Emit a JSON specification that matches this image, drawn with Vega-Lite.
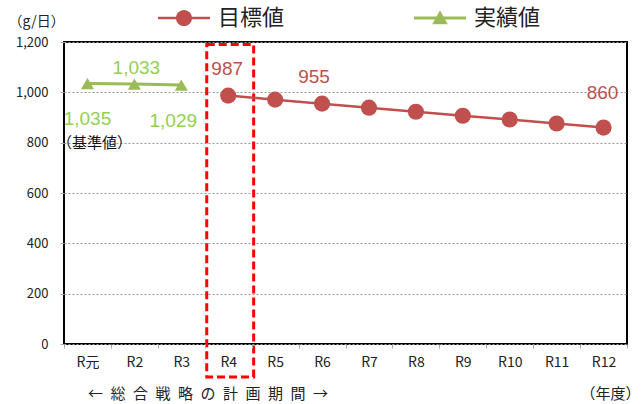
{
  "$schema": "https://vega.github.io/schema/vega-lite/v6.json",
  "width": 563,
  "height": 302,
  "autosize": {"type": "none"},
  "padding": {"left": 64, "top": 42, "right": 15, "bottom": 60},
  "background": "white",
  "config": {
    "view": {"stroke": "#000", "strokeWidth": 2},
    "font": "Noto Sans CJK JP"
  },
  "title": {
    "text": "←\u2002総\u2002合\u2002戦\u2002略\u2002の\u2002計\u2002画\u2002期\u2002間\u2002→",
    "orient": "bottom",
    "anchor": "start",
    "frame": "group",
    "font": "Noto Sans CJK JP",
    "fontSize": 15,
    "fontWeight": "normal",
    "color": "#222",
    "dx": 24,
    "dy": -14,
    "offset": 0
  },
  "data": {
    "values": [
      {"series": "実績値", "year": "R元", "value": 1035},
      {"series": "実績値", "year": "R2", "value": 1033},
      {"series": "実績値", "year": "R3", "value": 1029},
      {"series": "目標値", "year": "R4", "value": 987},
      {"series": "目標値", "year": "R5", "value": 971},
      {"series": "目標値", "year": "R6", "value": 955},
      {"series": "目標値", "year": "R7", "value": 939},
      {"series": "目標値", "year": "R8", "value": 923},
      {"series": "目標値", "year": "R9", "value": 907},
      {"series": "目標値", "year": "R10", "value": 892},
      {"series": "目標値", "year": "R11", "value": 876},
      {"series": "目標値", "year": "R12", "value": 860},
      {"series": "基準", "year": "R元", "value": 800, "label": "（基準値）"}
    ]
  },
  "encoding": {
    "x": {
      "field": "year",
      "type": "nominal",
      "sort": ["R元", "R2", "R3", "R4", "R5", "R6", "R7", "R8", "R9", "R10", "R11", "R12"],
      "scale": {"type": "band", "paddingInner": 0, "paddingOuter": 0},
      "axis": {
        "labelAngle": 0,
        "labelFont": "Noto Sans CJK JP",
        "labelFontSize": 14,
        "labelColor": "#222",
        "labelPadding": 7,
        "tickBand": "extent",
        "tickColor": "#aaa",
        "tickSize": 4,
        "domain": false,
        "grid": false,
        "title": "（年度）",
        "titleFont": "Noto Sans CJK JP",
        "titleFontSize": 15,
        "titleFontWeight": "normal",
        "titleColor": "#222",
        "titleAlign": "right",
        "titleBaseline": "middle",
        "titleX": 576,
        "titleY": 49
      }
    },
    "y": {
      "field": "value",
      "type": "quantitative",
      "scale": {"domain": [0, 1200], "nice": false},
      "axis": {
        "values": [0, 200, 400, 600, 800, 1000, 1200],
        "format": ",d",
        "labelFont": "Noto Sans CJK JP",
        "labelFontSize": 13,
        "labelColor": "#222",
        "labelPadding": 12,
        "tickColor": "#aaa",
        "tickSize": 4,
        "domain": false,
        "grid": true,
        "gridColor": "#999",
        "gridDash": [2, 2],
        "gridWidth": 1,
        "title": "（g/日）",
        "titleAngle": 0,
        "titleFont": "Noto Sans CJK JP",
        "titleFontSize": 14,
        "titleFontWeight": "normal",
        "titleColor": "#222",
        "titleAlign": "left",
        "titleBaseline": "middle",
        "titleX": -56,
        "titleY": -21
      }
    }
  },
  "layer": [
    {
      "transform": [{"filter": "datum.year === 'R4'"}],
      "mark": {"type": "rect", "fill": "transparent", "stroke": "#FF0000", "strokeWidth": 3, "strokeDash": [8, 4], "clip": false, "xOffset": 2},
      "encoding": {
        "y": {"datum": 1190},
        "y2": {"datum": -131}
      }
    },
    {
      "transform": [{"filter": "datum.series === '目標値'"}],
      "mark": {"type": "line", "color": "#C0504D", "strokeWidth": 2.5}
    },
    {
      "transform": [{"filter": "datum.series === '実績値'"}],
      "mark": {"type": "line", "color": "#9BBB59", "strokeWidth": 3}
    },
    {
      "transform": [{"filter": "datum.series === '目標値'"}],
      "mark": {"type": "point", "shape": "circle", "filled": true, "size": 260, "opacity": 1},
      "encoding": {
        "color": {
          "field": "series",
          "type": "nominal",
          "scale": {"domain": ["目標値", "実績値"], "range": ["#C0504D", "#9BBB59"]},
          "legend": {
            "title": null,
            "orient": "none",
            "legendX": 94,
            "legendY": -50,
            "direction": "horizontal",
            "symbolSize": 2704,
            "symbolStrokeWidth": 0,
            "symbolOpacity": 1,
            "labelFont": "Noto Sans CJK JP",
            "labelFontSize": 22,
            "labelColor": "#222",
            "labelOffset": 8,
            "columnPadding": 129,
            "padding": 0,
            "encode": {
              "symbols": {
                "update": {
                  "shape": {"signal": "datum.value === '目標値' ? 'M-1,-0.05H1V0.05H-1Z M0.31,0A0.31,0.31,0,1,1,-0.31,0A0.31,0.31,0,1,1,0.31,0Z' : 'M-1,-0.06H1V0.06H-1Z M0,-0.3L0.3,0.24L-0.3,0.24Z'"}
                }
              }
            }
          }
        }
      }
    },
    {
      "transform": [{"filter": "datum.series === '実績値'"}],
      "mark": {"type": "point", "shape": "triangle-up", "filled": true, "size": 170, "opacity": 1},
      "encoding": {
        "color": {"field": "series", "type": "nominal"}
      }
    },
    {
      "transform": [{"filter": "datum.series === '基準'"}],
      "mark": {"type": "text", "font": "Noto Sans CJK JP", "fontSize": 15, "color": "#111", "align": "center", "baseline": "middle", "dx": 7},
      "encoding": {
        "text": {"field": "label"}
      }
    },
    {
      "transform": [{"filter": "datum.year === 'R元' && datum.series === '実績値'"}],
      "mark": {"type": "text", "font": "Liberation Sans", "fontSize": 19, "color": "#92D050", "align": "center", "baseline": "middle", "dy": 35},
      "encoding": {"text": {"field": "value", "format": ",d"}}
    },
    {
      "transform": [{"filter": "datum.year === 'R2'"}],
      "mark": {"type": "text", "font": "Liberation Sans", "fontSize": 19, "color": "#92D050", "align": "center", "baseline": "middle", "dy": -16, "dx": 2},
      "encoding": {"text": {"field": "value", "format": ",d"}}
    },
    {
      "transform": [{"filter": "datum.year === 'R3'"}],
      "mark": {"type": "text", "font": "Liberation Sans", "fontSize": 19, "color": "#92D050", "align": "center", "baseline": "middle", "dy": 36, "dx": -8},
      "encoding": {"text": {"field": "value", "format": ",d"}}
    },
    {
      "transform": [{"filter": "datum.year === 'R4'"}],
      "mark": {"type": "text", "font": "Liberation Sans", "fontSize": 19, "color": "#C0504D", "align": "center", "baseline": "middle", "dy": -27, "dx": -1},
      "encoding": {"text": {"field": "value", "format": ",d"}}
    },
    {
      "transform": [{"filter": "datum.year === 'R6'"}],
      "mark": {"type": "text", "font": "Liberation Sans", "fontSize": 19, "color": "#C0504D", "align": "center", "baseline": "middle", "dy": -27, "dx": -8},
      "encoding": {"text": {"field": "value", "format": ",d"}}
    },
    {
      "transform": [{"filter": "datum.year === 'R12'"}],
      "mark": {"type": "text", "font": "Liberation Sans", "fontSize": 19, "color": "#C0504D", "align": "center", "baseline": "middle", "dy": -35, "dx": -1},
      "encoding": {"text": {"field": "value", "format": ",d"}}
    }
  ]
}
